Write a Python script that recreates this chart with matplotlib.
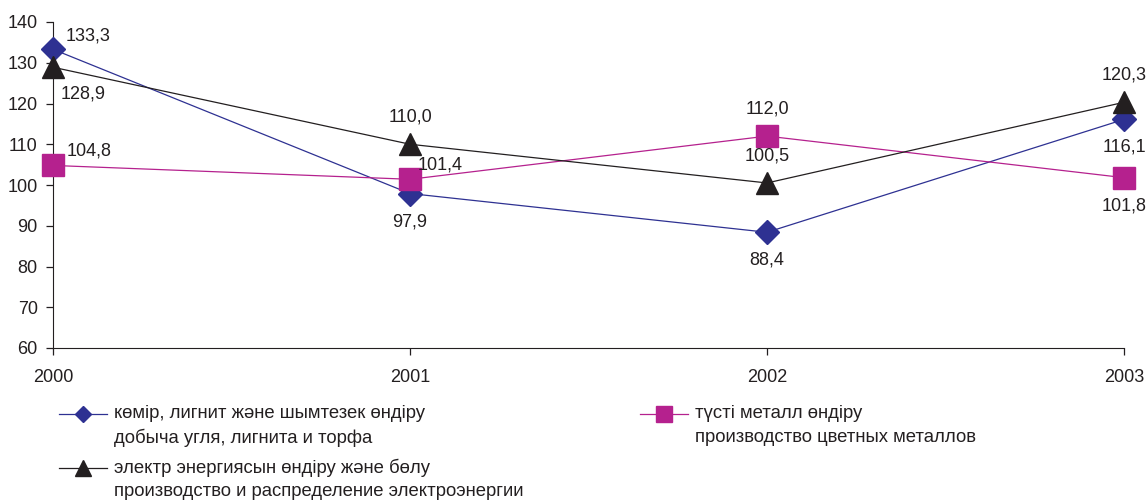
import matplotlib
matplotlib.use("Agg")
import matplotlib.pyplot as plt
from matplotlib.lines import Line2D

# data
years = [2000, 2001, 2002, 2003]
coal = [133.3, 97.9, 88.4, 116.1]
metals = [104.8, 101.4, 112.0, 101.8]
power = [128.9, 110.0, 100.5, 120.3]

coal_label = ["көмір, лигнит және шымтезек өндіру", "добыча угля, лигнита и торфа"]
metals_label = ["түсті металл өндіру", "производство цветных металлов"]
power_label = ["электр энергиясын өндіру және бөлу", "производство и распределение электроэнергии"]

# label offsets in pixels (dx, dy)
coal_off = [(35, 13), (0, -28), (0, -28), (0, -28)]
metals_off = [(36, 14), (30, 14), (0, 27), (0, -28)]
power_off = [(30, -27), (0, 27), (0, 27), (0, 27)]

blue = "#2E3192"
magenta = "#B5218E"
black = "#231F20"

plt.rcParams['font.family'] = ['Liberation Sans', 'DejaVu Sans']
plt.rcParams['font.size'] = 13

fig = plt.figure(figsize=(11.47, 5), dpi=100)
ax = fig.add_axes([0.0462, 0.304, 0.9338, 0.652])

ax.plot(years, coal, color=blue, lw=0.9, marker="D", ms=12, mec=blue, zorder=3, clip_on=False)
ax.plot(years, metals, color=magenta, lw=0.9, marker="s", ms=16, mec=magenta, zorder=3, clip_on=False)
ax.plot(years, power, color=black, lw=0.9, marker="^", ms=16, mec=black, zorder=4, clip_on=False)

def fmt(v):
    return ("%.1f" % v).replace(".", ",")

for series, offs in [(coal, coal_off), (metals, metals_off), (power, power_off)]:
    for x, y, (dx, dy) in zip(years, series, offs):
        ax.annotate(fmt(y), (x, y), xytext=(dx, dy), textcoords="offset pixels",
                    ha="center", va="center", color=black, zorder=5)

ax.set_xlim(2000, 2003)
ax.set_ylim(60, 140)
ax.set_yticks(range(60, 141, 10))
ax.set_xticks(years)
ax.spines["top"].set_visible(False)
ax.spines["right"].set_visible(False)
ax.spines["left"].set_color(black)
ax.spines["bottom"].set_color(black)
ax.tick_params(colors=black, length=5, width=0.9)
ax.tick_params(axis="x", pad=10)
ax.tick_params(axis="y", pad=6)

# legend drawn manually
W, H = 1147.0, 500.0
def legend_item(x0, y0, color, marker, ms, lines):
    fig.add_artist(Line2D([x0 / W, (x0 + 48) / W], [1 - y0 / H, 1 - y0 / H],
                          color=color, lw=0.9, transform=fig.transFigure))
    fig.add_artist(Line2D([(x0 + 24) / W], [1 - y0 / H], color=color, marker=marker,
                          ms=ms, mec=color, transform=fig.transFigure))
    for i, t in enumerate(lines):
        fig.text((x0 + 55) / W, 1 - (y0 + i * 24) / H, t, ha="left", va="center",
                 color=black, fontsize=13.3)

legend_item(59, 414, blue, "D", 8, coal_label)
legend_item(640, 414, magenta, "s", 11, metals_label)
legend_item(59, 468, black, "^", 11, power_label)

fig.savefig("out.png", dpi=100)
